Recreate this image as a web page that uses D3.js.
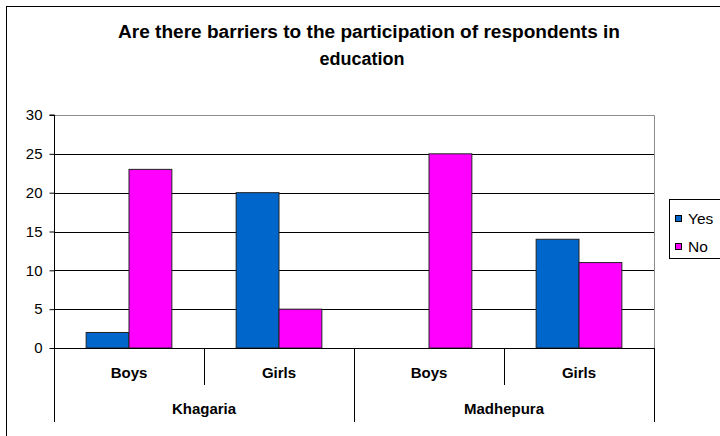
<!DOCTYPE html>
<html><head><meta charset="utf-8">
<script src="https://cdn.jsdelivr.net/npm/d3@7"></script>
<style>body{margin:0;background:#fff}svg{display:block}text{font-family:"Liberation Sans",Arial,sans-serif}</style>
</head><body><svg id="c" width="720" height="436"></svg>
<script>
const groups = ["Khagaria", "Madhepura"];
const subcats = ["Boys", "Girls"];
const series = ["Yes", "No"];
const yesValues = [2, 20, 0, 14];
const noValues = [23, 5, 25, 11];
const yTicks = [0, 5, 10, 15, 20, 25, 30];
const colors = ["#0066CC", "#FF00FF"];

const svg = d3.select("#c");
const L = 54, R = 654, T = 115, B = 348;
const cats = [];
groups.forEach(g => subcats.forEach(s => cats.push(g + "|" + s)));
const x = d3.scaleBand().domain(cats).range([L, R]).paddingInner(0).paddingOuter(0);
const y = d3.scaleLinear().domain([0, 30]).range([B, T]);

// outer border
svg.append("rect").attr("x", 6.5).attr("y", 6.5).attr("width", 760).attr("height", 480)
  .attr("fill", "none").attr("stroke", "#000");

// title
svg.append("text").attr("x", 369).attr("y", 38).attr("text-anchor", "middle")
  .attr("font-weight", "bold").attr("font-size", 18)
  .attr("textLength", 502).attr("lengthAdjust", "spacingAndGlyphs")
  .text("Are there barriers to the participation of respondents in");
svg.append("text").attr("x", 362).attr("y", 65).attr("text-anchor", "middle")
  .attr("font-weight", "bold").attr("font-size", 18).text("education");

// gridlines
svg.append("g").selectAll("line").data(yTicks.filter(t => t > 0 && t < 30)).join("line")
  .attr("x1", L).attr("x2", R).attr("y1", d => Math.round(y(d)) + 0.5).attr("y2", d => Math.round(y(d)) + 0.5)
  .attr("stroke", "#000");
// plot border top/right
svg.append("path").attr("d", `M${L},${T + 0.5}H${R + 0.5}V${B}`).attr("fill", "none").attr("stroke", "#8c8c8c");

// bars
const inner = x.bandwidth() / 3.5;
const data = [];
cats.forEach((c, i) => {
  data.push({c, s: 0, v: yesValues[i]});
  data.push({c, s: 1, v: noValues[i]});
});
svg.append("g").selectAll("rect").data(data.filter(d => d.v > 0)).join("rect")
  .attr("x", d => x(d.c) + x.bandwidth() / 2 - inner + d.s * inner)
  .attr("y", d => y(d.v))
  .attr("width", inner).attr("height", d => y(0) - y(d.v))
  .attr("fill", d => colors[d.s]).attr("stroke", "#222").attr("stroke-width", 1);

// y axis
const ya = svg.append("g").attr("transform", `translate(${L + 0.5},0)`)
  .call(d3.axisLeft(y).tickValues(yTicks).tickSize(5).tickPadding(7));
ya.select(".domain").attr("stroke", "#000").attr("d", `M-5,${T}H0V${B}`);
ya.selectAll(".tick line").attr("stroke", "#000");
ya.selectAll(".tick text").attr("font-size", 15).attr("fill", "#000").style("font-family", '"Liberation Sans",Arial,sans-serif');

// x axis baseline
svg.append("line").attr("x1", L).attr("x2", R).attr("y1", B + 0.5).attr("y2", B + 0.5).attr("stroke", "#000");
// category separators
const boundaries = cats.map(c => x(c)).concat([R]);
svg.append("g").selectAll("line").data(boundaries).join("line")
  .attr("x1", d => Math.round(d) + 0.5).attr("x2", d => Math.round(d) + 0.5)
  .attr("y1", B).attr("y2", (d, i) => (i % 2 === 0) ? 422 : 385)
  .attr("stroke", "#000");
// sub labels
svg.append("g").selectAll("text").data(cats).join("text")
  .attr("x", d => x(d) + x.bandwidth() / 2).attr("y", 378)
  .attr("text-anchor", "middle").attr("font-weight", "bold").attr("font-size", 15)
  .text(d => d.split("|")[1]);
// group labels
svg.append("g").selectAll("text").data(groups).join("text")
  .attr("x", g => x(g + "|" + subcats[0]) + x.bandwidth())
  .attr("y", 414).attr("text-anchor", "middle").attr("font-weight", "bold").attr("font-size", 15)
  .text(g => g);

// legend
svg.append("rect").attr("x", 669.5).attr("y", 199.5).attr("width", 70).attr("height", 59)
  .attr("fill", "#fff").attr("stroke", "#000");
series.forEach((s, i) => {
  svg.append("rect").attr("x", 675.5).attr("y", 215.5 + i * 28).attr("width", 6).attr("height", 6)
    .attr("fill", colors[i]).attr("stroke", "#000");
  svg.append("text").attr("x", 688).attr("y", 224 + i * 28).attr("font-size", 15.5).text(s);
});
</script></body></html>
